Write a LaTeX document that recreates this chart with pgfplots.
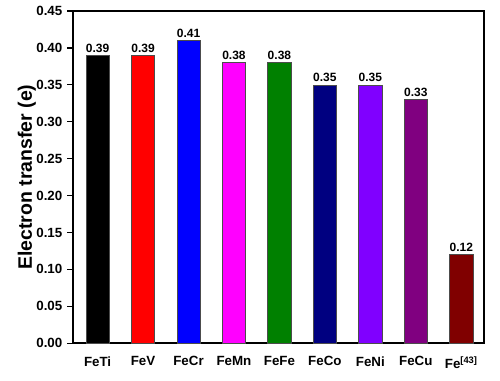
\documentclass[border=0pt]{standalone}
\usepackage{fontspec}
\setmainfont{Liberation Sans}
\usepackage{pgfplots}
\pgfplotsset{compat=1.18}
\definecolor{cmag}{HTML}{FF00FF}
\definecolor{cgreen}{HTML}{008000}
\definecolor{cnavy}{HTML}{000080}
\definecolor{cviolet}{HTML}{8000FF}
\definecolor{cpurple}{HTML}{800080}
\definecolor{cmaroon}{HTML}{800000}
\begin{document}
\begin{tikzpicture}
\begin{axis}[
  scale only axis,
  width=308pt, height=249pt,
  xmin=-0.54, xmax=8.5,
  ymin=0, ymax=0.45,
  ytick={0,0.05,...,0.45},
  xtick={0,...,8},
  xticklabels={FeTi,FeV,FeCr,FeMn,FeFe,FeCo,FeNi,FeCu,Fe\textsuperscript{[43]}},
  x tick style={draw=none},
  y tick style={line width=1pt, black},
  tick align=outside,
  ytick pos=left,
  xtick pos=bottom,
  major tick length=4.5pt,
  axis line style={line width=1.5pt},
  tick label style={font=\bfseries\fontsize{10}{12}\selectfont},
  /pgf/number format/assume math mode=true,
  yticklabel style={/pgf/number format/.cd, fixed, fixed zerofill, precision=2},
  ylabel={\bfseries Electron transfer (e)},
  ylabel style={font=\fontsize{14.6}{17}\selectfont},
  ylabel shift=-6.5pt,
  xticklabel style={yshift=-2pt},
  ybar, bar width=17.5pt, bar shift=0pt,
  nodes near coords,
  nodes near coords style={font=\bfseries\fontsize{9}{10}\selectfont, inner sep=2pt, /pgf/number format/.cd, fixed, fixed zerofill, precision=2, assume math mode=true},
  every axis plot/.append style={draw=black!70, line width=0.4pt},
]
\addplot[fill=black] coordinates {(0,0.39)};
\addplot[fill=red] coordinates {(1,0.39)};
\addplot[fill=blue] coordinates {(2,0.41)};
\addplot[fill=cmag] coordinates {(3,0.38)};
\addplot[fill=cgreen] coordinates {(4,0.38)};
\addplot[fill=cnavy] coordinates {(5,0.35)};
\addplot[fill=cviolet] coordinates {(6,0.35)};
\addplot[fill=cpurple] coordinates {(7,0.33)};
\addplot[fill=cmaroon] coordinates {(8,0.12)};
\end{axis}
\pgfresetboundingbox
\useasboundingbox ([shift={(-54.75pt,-27.75pt)}]current axis.south west) rectangle ([shift={(12pt,8.25pt)}]current axis.north east);
\end{tikzpicture}
\end{document}
